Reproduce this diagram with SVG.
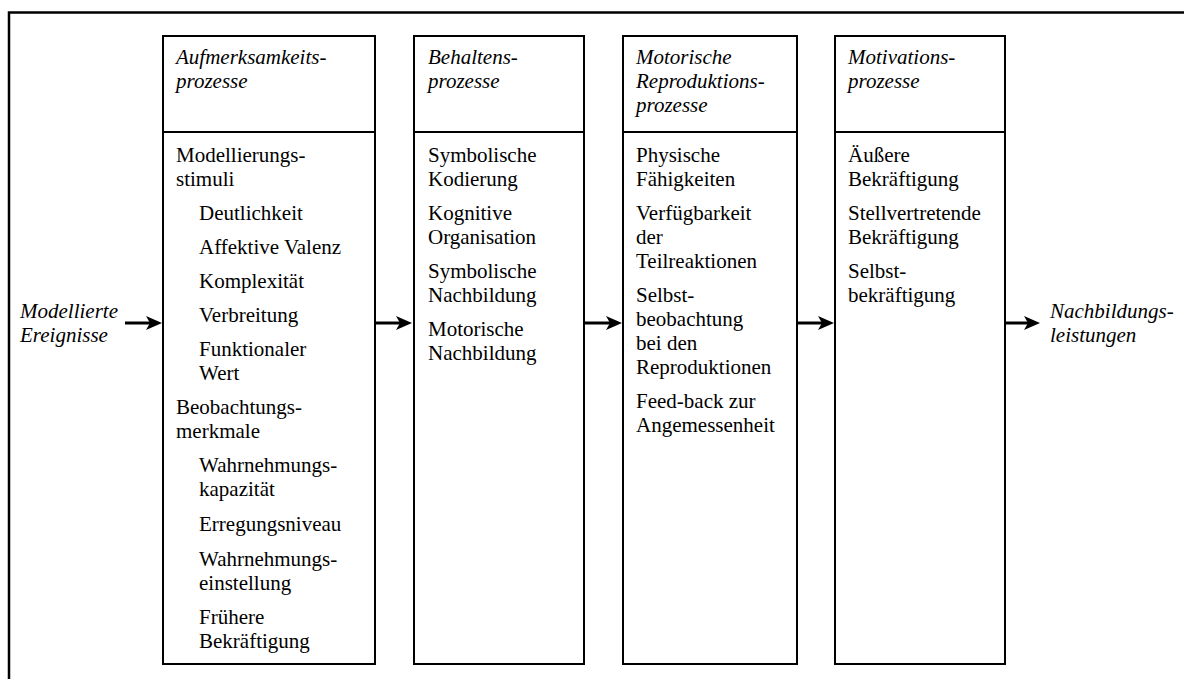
<svg xmlns="http://www.w3.org/2000/svg" width="1184" height="679" viewBox="0 0 1184 679">
  <defs>
    <style>
      .frame { fill: none; stroke: #000; stroke-width: 2.5; }
      .box { fill: #fff; stroke: #000; stroke-width: 2; }
      .div { stroke: #000; stroke-width: 2; }
      .hd { font-style: italic; }
      .shaft { stroke: #000; stroke-width: 3; }
      .head { fill: #000; }
    </style>
  </defs>
  <rect width="1184" height="679" fill="#fff"/>
  <!-- outer frame (only top and left edges fall inside the page) -->
  <rect class="frame" x="9" y="12.5" width="1200" height="700"/>

  <g font-family="'Liberation Serif', 'DejaVu Serif', serif" font-size="21" fill="#000">
  <!-- stage 1 -->
  <g id="aufmerksamkeit">
    <rect class="box" x="163" y="36" width="212" height="628"/>
    <line class="div" x1="163" y1="132" x2="375" y2="132"/>
    <text class="hd" x="176" y="64">Aufmerksamkeits-</text>
    <text class="hd" x="176" y="88">prozesse</text>
    <text x="176" y="162">Modellierungs-</text>
    <text x="176" y="186">stimuli</text>
    <text x="199" y="220">Deutlichkeit</text>
    <text x="199" y="254">Affektive Valenz</text>
    <text x="199" y="288">Komplexität</text>
    <text x="199" y="322">Verbreitung</text>
    <text x="199" y="356">Funktionaler</text>
    <text x="199" y="380">Wert</text>
    <text x="176" y="414">Beobachtungs-</text>
    <text x="176" y="438">merkmale</text>
    <text x="199" y="472">Wahrnehmungs-</text>
    <text x="199" y="496">kapazität</text>
    <text x="199" y="531">Erregungsniveau</text>
    <text x="199" y="566">Wahrnehmungs-</text>
    <text x="199" y="590">einstellung</text>
    <text x="199" y="624">Frühere</text>
    <text x="199" y="648">Bekräftigung</text>
  </g>

  <!-- stage 2 -->
  <g id="behalten">
    <rect class="box" x="414" y="36" width="170" height="628"/>
    <line class="div" x1="414" y1="132" x2="584" y2="132"/>
    <text class="hd" x="428" y="64">Behaltens-</text>
    <text class="hd" x="428" y="88">prozesse</text>
    <text x="428" y="162">Symbolische</text>
    <text x="428" y="186">Kodierung</text>
    <text x="428" y="220">Kognitive</text>
    <text x="428" y="244">Organisation</text>
    <text x="428" y="278">Symbolische</text>
    <text x="428" y="302">Nachbildung</text>
    <text x="428" y="336">Motorische</text>
    <text x="428" y="360">Nachbildung</text>
  </g>

  <!-- stage 3 -->
  <g id="reproduktion">
    <rect class="box" x="623" y="36" width="174" height="628"/>
    <line class="div" x1="623" y1="132" x2="797" y2="132"/>
    <text class="hd" x="636" y="64">Motorische</text>
    <text class="hd" x="636" y="88">Reproduktions-</text>
    <text class="hd" x="636" y="112">prozesse</text>
    <text x="636" y="162">Physische</text>
    <text x="636" y="186">Fähigkeiten</text>
    <text x="636" y="220">Verfügbarkeit</text>
    <text x="636" y="244">der</text>
    <text x="636" y="268">Teilreaktionen</text>
    <text x="636" y="302">Selbst-</text>
    <text x="636" y="326">beobachtung</text>
    <text x="636" y="350">bei den</text>
    <text x="636" y="374">Reproduktionen</text>
    <text x="636" y="408">Feed-back zur</text>
    <text x="636" y="432">Angemessenheit</text>
  </g>

  <!-- stage 4 -->
  <g id="motivation">
    <rect class="box" x="835" y="36" width="170" height="628"/>
    <line class="div" x1="835" y1="132" x2="1005" y2="132"/>
    <text class="hd" x="848" y="64">Motivations-</text>
    <text class="hd" x="848" y="88">prozesse</text>
    <text x="848" y="162">Äußere</text>
    <text x="848" y="186">Bekräftigung</text>
    <text x="848" y="220">Stellvertretende</text>
    <text x="848" y="244">Bekräftigung</text>
    <text x="848" y="278">Selbst-</text>
    <text x="848" y="302">bekräftigung</text>
  </g>

  <!-- input / output labels -->
  <g id="eingang">
    <text class="hd" x="20" y="318">Modellierte</text>
    <text class="hd" x="20" y="342">Ereignisse</text>
  </g>
  <g id="ausgang">
    <text class="hd" x="1050" y="318">Nachbildungs-</text>
    <text class="hd" x="1050" y="342">leistungen</text>
  </g>
  </g>

  <!-- flow arrows -->
  <g id="connectors">
    <line class="shaft" x1="125" y1="323" x2="152" y2="323"/>
    <path class="head" d="M162,323 L146,316 L150,323 L146,330 Z"/>
    <line class="shaft" x1="376" y1="323" x2="402" y2="323"/>
    <path class="head" d="M412,323 L396,316 L400,323 L396,330 Z"/>
    <line class="shaft" x1="585" y1="323" x2="612" y2="323"/>
    <path class="head" d="M622,323 L606,316 L610,323 L606,330 Z"/>
    <line class="shaft" x1="798" y1="323" x2="824" y2="323"/>
    <path class="head" d="M834,323 L818,316 L822,323 L818,330 Z"/>
    <line class="shaft" x1="1006" y1="323" x2="1030" y2="323"/>
    <path class="head" d="M1040,323 L1024,316 L1028,323 L1024,330 Z"/>
  </g>
</svg>
